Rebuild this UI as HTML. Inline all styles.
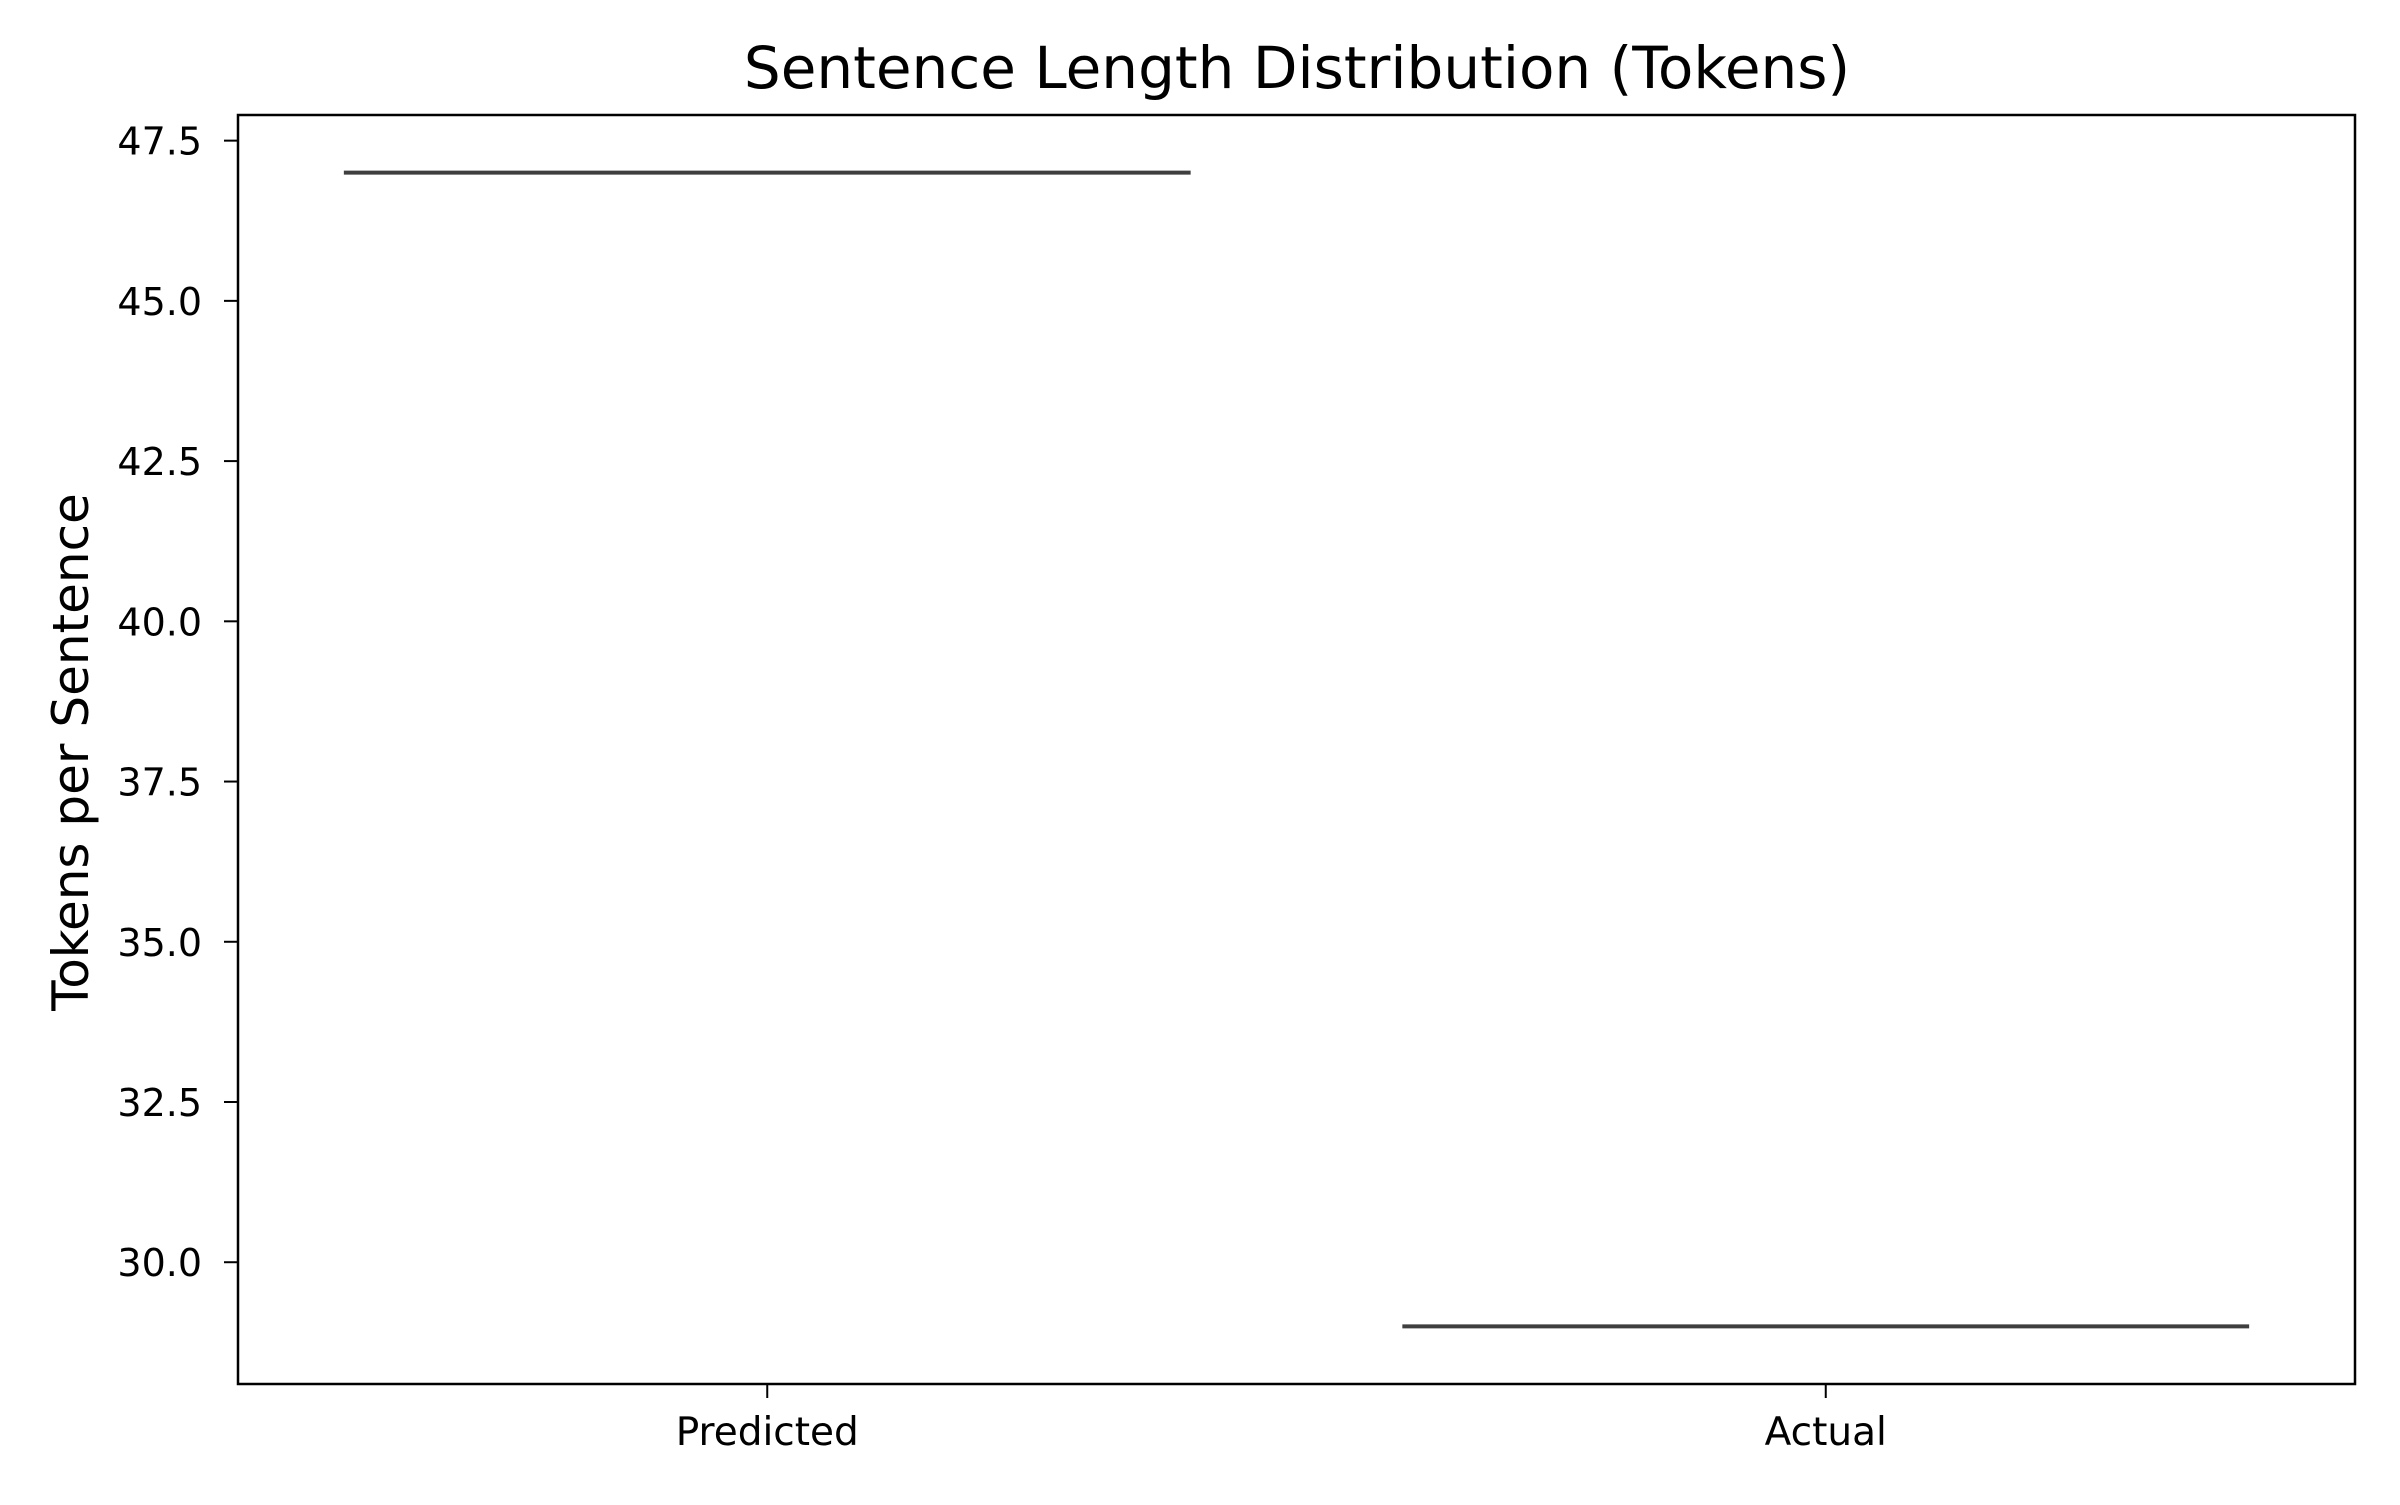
<!DOCTYPE html>
<html><head><meta charset="utf-8"><style>
html,body{margin:0;padding:0;background:#fff;}
svg text{font-family:"DejaVu Sans","Liberation Sans",sans-serif;fill:#000;}
</style></head><body>
<svg id="chart" width="2400" height="1500" viewBox="0 0 2400 1500" xmlns="http://www.w3.org/2000/svg">
<rect x="0" y="0" width="2400" height="1500" fill="#fff"/>
<text x="1297" y="88" font-size="58" text-anchor="middle">Sentence Length Distribution (Tokens)</text>
<text transform="translate(88,752) rotate(-90)" font-size="50" text-anchor="middle">Tokens per Sentence</text>
<g id="marks"></g>
<rect x="238" y="115" width="2117" height="1269" fill="none" stroke="#000" stroke-width="2.5"/>
<g id="yticks"></g>
<g id="xticks"></g>
</svg>
<script>
const categories = ["Predicted", "Actual"];
const values = [47, 29];
const yTicks = [30.0, 32.5, 35.0, 37.5, 40.0, 42.5, 45.0, 47.5];
const yTickLabels = ["30.0", "32.5", "35.0", "37.5", "40.0", "42.5", "45.0", "47.5"];

const L=238,R=2355,T=115,B=1384;
const yMin=28.1,yMax=47.9;
const xMin=-0.5,xMax=categories.length-0.5;
function sy(v){return B-(v-yMin)/(yMax-yMin)*(B-T);}
function sx(i){return L+(i-xMin)/(xMax-xMin)*(R-L);}
const NS="http://www.w3.org/2000/svg";
const marks=document.getElementById('marks');
const yg=document.getElementById('yticks');
const xg=document.getElementById('xticks');
const half=0.4*(sx(1)-sx(0));
values.forEach((v,i)=>{
  const ln=document.createElementNS(NS,'line');
  ln.setAttribute('x1',sx(i)-half);ln.setAttribute('x2',sx(i)+half);
  ln.setAttribute('y1',sy(v));ln.setAttribute('y2',sy(v));
  ln.setAttribute('stroke','#3f3f3f');ln.setAttribute('stroke-width','4');
  
  
  marks.appendChild(ln);
});
yTicks.forEach((t,i)=>{
  const y=sy(t);
  const tk=document.createElementNS(NS,'line');
  tk.setAttribute('x1',L-14);tk.setAttribute('x2',L);tk.setAttribute('y1',y);tk.setAttribute('y2',y);
  tk.setAttribute('stroke','#000');tk.setAttribute('stroke-width','2');
  
  
  yg.appendChild(tk);
  const tx=document.createElementNS(NS,'text');
  tx.setAttribute('x',L-36);tx.setAttribute('y',y+14);tx.setAttribute('font-size','38');tx.setAttribute('text-anchor','end');
  tx.textContent=yTickLabels[i];
  
  
  yg.appendChild(tx);
});
categories.forEach((c,i)=>{
  const x=sx(i);
  const tk=document.createElementNS(NS,'line');
  tk.setAttribute('x1',x);tk.setAttribute('x2',x);tk.setAttribute('y1',B);tk.setAttribute('y2',B+14);
  tk.setAttribute('stroke','#000');tk.setAttribute('stroke-width','2');
  
  
  xg.appendChild(tk);
  const tx=document.createElementNS(NS,'text');
  tx.setAttribute('x',x);tx.setAttribute('y',B+61);tx.setAttribute('font-size','39');tx.setAttribute('text-anchor','middle');
  tx.textContent=c;
  
  
  xg.appendChild(tx);
});
</script>
</body></html>
